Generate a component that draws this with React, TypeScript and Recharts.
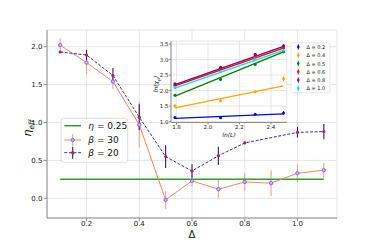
import { ScatterChart, Scatter, XAxis, YAxis, CartesianGrid, ErrorBar } from "recharts";

// main panel: eta_eff vs Delta
const deltas = [0.1, 0.2, 0.3, 0.4, 0.5, 0.6, 0.7, 0.8, 0.9, 1.0, 1.1];
const beta30 = [2.02, 1.79, 1.54, 0.97, -0.02, 0.23, 0.12, 0.215, 0.2, 0.33, 0.37];
const beta30Err = [0.09, 0.15, 0.1, 0.3, 0.12, 0.08, 0.12, 0.12, 0.17, 0.12, 0.1];
const beta20Deltas = [0.1, 0.2, 0.3, 0.4, 0.5, 0.6, 0.7, 0.8, 1.0, 1.1];
const beta20 = [1.93, 1.89, 1.62, 1.07, 0.55, 0.36, 0.56, 0.73, 0.87, 0.88];
const beta20Err = [0.0, 0.07, 0.1, 0.17, 0.15, 0.09, 0.12, 0.0, 0.07, 0.1];
const etaRef = 0.25;
const xTicks = [0.2, 0.4, 0.6, 0.8, 1.0];
const yTicks = [0, 0.5, 1.0, 1.5, 2.0];

// inset: ln(chi) vs ln(L)
const lnL = [1.79, 2.08, 2.3, 2.48];
const insetLabels = ["0.2", "0.4", "0.5", "0.6", "0.8", "1.0"];
const lnChi = [
	[1.13, 1.12, 1.24, 1.28],
	[1.5, 1.67, 1.96, 2.38],
	[1.85, 2.36, 2.84, 3.25],
	[2.17, 2.71, 3.12, 3.38],
	[2.22, 2.75, 3.17, 3.45],
	[2.1, 2.61, 3.01, 3.3],
];
const lnChiErr = [
	[0.02, 0.02, 0.03, 0.06],
	[0.05, 0.03, 0.03, 0.08],
	[0.03, 0.03, 0.03, 0.04],
	[0.03, 0.03, 0.03, 0.05],
	[0.03, 0.03, 0.03, 0.04],
	[0.03, 0.03, 0.03, 0.03],
];
const fitStart = [1.1, 1.44, 1.82, 2.15, 2.19, 2.08];
const fitEnd = [1.25, 2.15, 3.25, 3.37, 3.43, 3.3];
const insetXTicks = [1.8, 2.0, 2.2, 2.4];
const insetYTicks = [1.0, 1.5, 2.0, 2.5, 3.0, 3.5];

const insetColors = ["#0000ff", "#ffa500", "#008000", "#ff0000", "#800080", "#00e5ee"];
const FONT = "DejaVu Sans";
const SPINE = "#8c8c8c";
const GRID = "#dedede";
const SALMON = "#f9825f";
const NAVY = "#1c1c96";

const b30Data = deltas.map((x, i) => ({ x, y: beta30[i], e: beta30Err[i] }));
const b20Data = beta20Deltas.map((x, i) => ({ x, y: beta20[i], e: beta20Err[i] }));
const refData = [
	{ x: deltas[0], y: etaRef },
	{ x: deltas[deltas.length - 1], y: etaRef },
];

const none = () => <g />;

function App() {
	return (
		<div style={{ position: "absolute", left: 0, top: 0, width: 375, height: 250, fontFamily: FONT }}>
			<div style={{ position: "absolute", left: 0, top: 0 }}>
				<ScatterChart width={375} height={250} margin={{ top: 30, right: 38, bottom: 2, left: 0 }}>
					<CartesianGrid stroke={GRID} strokeWidth={0.8} />
					<XAxis
						type="number"
						dataKey="x"
						domain={[0.05, 1.15]}
						ticks={xTicks}
						interval={0}
						allowDataOverflow
						height={30}
						tickSize={3.5}
						tickMargin={0}
						stroke={SPINE}
						tickFormatter={(v: number) => v.toFixed(1)}
						tick={{ fontSize: 7, fill: "#222", fontFamily: FONT }}
					/>
					<YAxis
						type="number"
						dataKey="y"
						domain={[-0.26, 2.22]}
						ticks={yTicks}
						interval={0}
						allowDataOverflow
						width={47}
						tickSize={3.5}
						tickMargin={1}
						stroke={SPINE}
						tickFormatter={(v: number) => v.toFixed(1)}
						tick={{ fontSize: 7, fill: "#222", fontFamily: FONT }}
					/>
					<XAxis xAxisId="top" orientation="top" type="number" domain={[0, 1]} height={0} tick={false} tickLine={false} stroke={SPINE} />
					<YAxis yAxisId="right" orientation="right" type="number" domain={[0, 1]} width={0} tick={false} tickLine={false} stroke={SPINE} />
					<Scatter
						data={refData}
						line={{ stroke: "#2ca02c", strokeWidth: 1.5 }}
						lineType="joint"
						shape={none}
						isAnimationActive={false}
					/>
					<Scatter
						data={b30Data}
						line={{ stroke: SALMON, strokeWidth: 1 }}
						lineType="joint"
						shape={(p: any) => <circle cx={p.cx} cy={p.cy} r={1.7} fill="#c4b8ff" stroke="#6a55e0" strokeWidth={0.8} />}
						isAnimationActive={false}
					>
						<ErrorBar dataKey="e" direction="y" width={0} stroke="#f9a286" strokeWidth={1.1} />
					</Scatter>
					<Scatter
						data={b20Data}
						line={{ stroke: NAVY, strokeWidth: 0.9, strokeDasharray: "3 1.6" }}
						lineType="joint"
						shape={(p: any) => <circle cx={p.cx} cy={p.cy} r={1.6} fill="#d4143c" />}
						isAnimationActive={false}
					>
						<ErrorBar dataKey="e" direction="y" width={0} stroke={NAVY} strokeWidth={1.1} />
					</Scatter>
				</ScatterChart>
			</div>

			<div style={{ position: "absolute", left: 150, top: 38 }}>
				<ScatterChart width={140} height={102} margin={{ top: 3, right: 3.3, bottom: 0, left: 0 }}>
					<CartesianGrid stroke={GRID} strokeWidth={0.7} fill="#ffffff" fillOpacity={1} />
					<XAxis
						type="number"
						dataKey="x"
						domain={[1.765, 2.5]}
						ticks={insetXTicks}
						interval={0}
						allowDataOverflow
						height={17.5}
						tickSize={2}
						tickMargin={0.5}
						stroke={SPINE}
						tickFormatter={(v: number) => v.toFixed(1)}
						tick={{ fontSize: 5.5, fill: "#222", fontFamily: FONT }}
					/>
					<YAxis
						type="number"
						dataKey="y"
						domain={[0.97, 3.6]}
						ticks={insetYTicks}
						interval={0}
						allowDataOverflow
						width={21}
						tickSize={2}
						tickMargin={0.5}
						stroke={SPINE}
						tickFormatter={(v: number) => v.toFixed(1)}
						tick={{ fontSize: 5.5, fill: "#222", fontFamily: FONT }}
					/>
					<XAxis xAxisId="top" orientation="top" type="number" domain={[0, 1]} height={0} tick={false} tickLine={false} stroke={SPINE} />
					<YAxis yAxisId="right" orientation="right" type="number" domain={[0, 1]} width={0} tick={false} tickLine={false} stroke={SPINE} />
					{insetLabels.map((lab, k) => (
						<Scatter
							key={"fit" + lab}
							data={[
								{ x: lnL[0], y: fitStart[k] },
								{ x: lnL[lnL.length - 1], y: fitEnd[k] },
							]}
							line={{ stroke: insetColors[k], strokeWidth: 1.3 }}
							lineType="joint"
							shape={none}
							isAnimationActive={false}
						/>
					))}
					{insetLabels.map((lab, k) => (
						<Scatter
							key={"pts" + lab}
							data={lnL.map((x, i) => ({ x, y: lnChi[k][i], e: lnChiErr[k][i] }))}
							shape={(p: any) => <circle cx={p.cx} cy={p.cy} r={1.5} fill={insetColors[k]} />}
							isAnimationActive={false}
						>
							<ErrorBar dataKey="e" direction="y" width={0} stroke={insetColors[k]} strokeWidth={1} />
						</Scatter>
					))}
				</ScatterChart>
			</div>

			<svg width={375} height={250} style={{ position: "absolute", left: 0, top: 0, pointerEvents: "none" }} fontFamily={FONT}>
				{/* axis labels */}
				<text x={192} y={234.5} fontSize={10} textAnchor="middle" dominantBaseline="central" fill="#111">Δ</text>
				<text transform="translate(31,128) rotate(-90)" fontSize={11} textAnchor="middle" fill="#111" fontStyle="italic">
					η<tspan fontSize={7.5} dy={2.5}>eff</tspan>
				</text>
				<text x={229} y={134.5} fontSize={6} textAnchor="middle" dominantBaseline="central" fill="#111" fontStyle="italic">ln(L)</text>
				<text transform="translate(158,84) rotate(-90)" fontSize={6} textAnchor="middle" fill="#111" fontStyle="italic">
					ln(χ<tspan fontSize={4.5} dy={1.5}>ρ</tspan><tspan dy={-1.5}>)</tspan>
				</text>

				{/* main legend */}
				<rect x={61} y={118.3} width={66.7} height={44} rx={2.5} fill="#fff" fillOpacity={0.9} stroke="#d8d8d8" strokeWidth={0.8} />
				<line x1={64.3} x2={81} y1={125.7} y2={125.7} stroke="#2ca02c" strokeWidth={1.5} />
				<text x={88.3} y={125.7} fontSize={9} dominantBaseline="central" fill="#111">
					<tspan fontStyle="italic">η</tspan> = {etaRef}
				</text>
				<line x1={64.3} x2={81} y1={140} y2={140} stroke={SALMON} strokeWidth={1} />
				<line x1={72.7} x2={72.7} y1={134} y2={146} stroke="#f9a286" strokeWidth={1.1} />
				<circle cx={72.7} cy={140} r={1.7} fill="#c4b8ff" stroke="#6a55e0" strokeWidth={0.8} />
				<text x={88.3} y={140} fontSize={9} dominantBaseline="central" fill="#111">
					<tspan fontStyle="italic">β</tspan> = 30
				</text>
				<line x1={64.3} x2={81} y1={152.7} y2={152.7} stroke={NAVY} strokeWidth={0.9} strokeDasharray="3 1.6" />
				<line x1={72.7} x2={72.7} y1={146.7} y2={158.7} stroke={NAVY} strokeWidth={1.1} />
				<circle cx={72.7} cy={152.7} r={1.6} fill="#d4143c" />
				<text x={88.3} y={152.7} fontSize={9} dominantBaseline="central" fill="#111">
					<tspan fontStyle="italic">β</tspan> = 20
				</text>

				{/* inset legend */}
				<rect x={291} y={42.7} width={39} height={50} rx={1.5} fill="#fff" fillOpacity={0.9} stroke="#d8d8d8" strokeWidth={0.6} />
				{insetLabels.map((lab, k) => {
					const y = 46.9 + k * 8.3;
					return (
						<g key={lab}>
							<line x1={298.3} x2={298.3} y1={y - 2.6} y2={y + 2.6} stroke={insetColors[k]} strokeWidth={1} />
							<circle cx={298.3} cy={y} r={1.3} fill={insetColors[k]} />
							<text x={306.5} y={y} fontSize={5} dominantBaseline="central" fill="#111">Δ = {lab}</text>
						</g>
					);
				})}
			</svg>
		</div>
	);
}

export default App;
